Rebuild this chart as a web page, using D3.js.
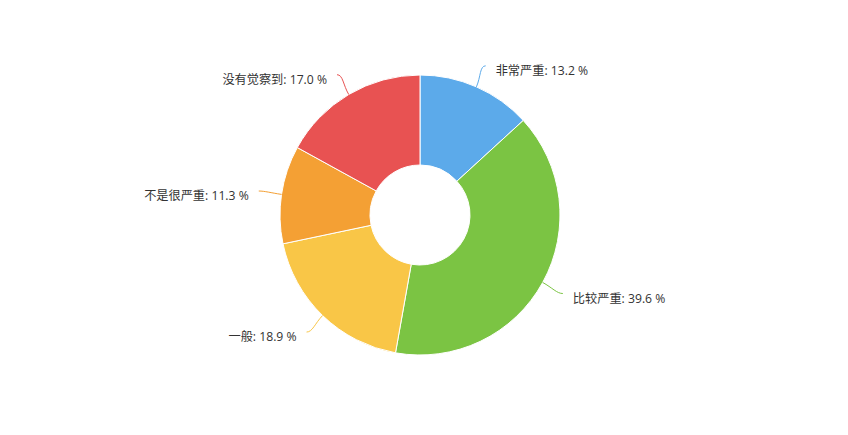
<!DOCTYPE html>
<html><head><meta charset="utf-8">
<script src="https://cdn.jsdelivr.net/npm/d3@7/dist/d3.min.js"></script>
<style>body{margin:0;background:#fff}svg{display:block}</style>
</head><body>
<svg id="chart" width="848" height="435"></svg>
<script>
const categories = ["非常严重", "比较严重", "一般", "不是很严重", "没有觉察到"];
const values = [13.2, 39.6, 18.9, 11.3, 17.0];
const colors = ["#5caaea", "#7bc443", "#f9c647", "#f4a034", "#e85252"];

const W = 848, H = 435, cx = 420, cy = 215, R = 140, r0 = 50, Rc = 163;
const svg = d3.select("#chart");
const g = svg.append("g").attr("transform", `translate(${cx},${cy})`);
const pie = d3.pie().sort(null).value(d => d)(values);
const arc = d3.arc().innerRadius(r0).outerRadius(R);

g.selectAll("path.slice").data(pie).join("path")
  .attr("class", "slice")
  .attr("d", arc)
  .attr("fill", (d, i) => colors[i])
  .attr("stroke", "#fff").attr("stroke-width", 1).attr("stroke-linejoin", "round");

const pt = (a, rad) => [rad * Math.sin(a), -rad * Math.cos(a)];
pie.forEach((d, i) => {
  const a = (d.startAngle + d.endAngle) / 2;
  const s = pt(a, R), m = pt(a, 151), e = pt(a, Rc);
  const right = Math.sin(a) >= 0;
  const sg = right ? 1 : -1;
  g.append("path")
    .attr("d", `M${s[0]},${s[1]} C${m[0]},${m[1]} ${e[0] - 6 * sg},${e[1]} ${e[0]},${e[1]}`)
    .attr("fill", "none").attr("stroke", colors[i]).attr("stroke-width", 1);
  g.append("text")
    .attr("x", e[0] + 10 * sg).attr("y", e[1] + 5)
    .attr("dy", "0.35em")
    .attr("text-anchor", right ? "start" : "end")
    .attr("font-family", "'Open Sans','Noto Sans CJK SC',sans-serif")
    .attr("font-size", 12.2).attr("fill", "#333")
    .text(`${categories[i]}: ${values[i].toFixed(1)} %`);
});
</script>
</body></html>
